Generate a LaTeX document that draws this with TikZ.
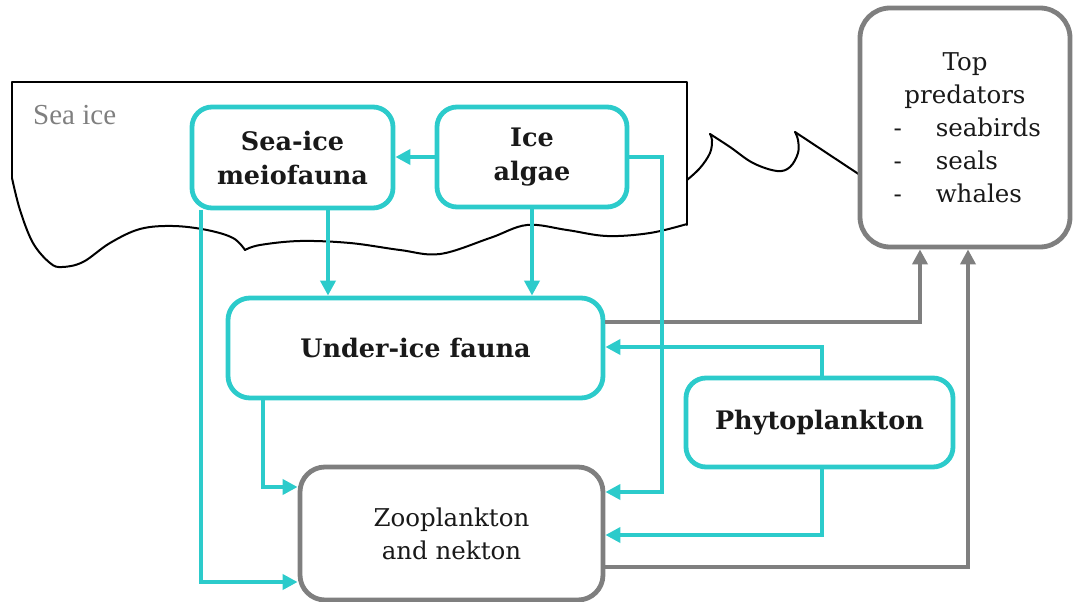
\documentclass[tikz,border=0pt]{standalone}
\usepackage{fontspec}
\setmainfont{DejaVu Serif}
\newfontfamily\labelfont{Liberation Serif}
\usetikzlibrary{arrows.meta}
\definecolor{teal2}{RGB}{44,203,203}
\definecolor{gry}{RGB}{127,127,127}
\definecolor{ink}{RGB}{25,25,25}
\begin{document}
\begin{tikzpicture}[x=1pt,y=-1pt,
  tbox/.style={draw=teal2, fill=white, line width=4.8pt, rounded corners=20pt, align=center, text=ink, font=\bfseries\fontsize{25.5}{34}\selectfont, inner sep=0pt},
  gbox/.style={draw=gry, fill=white, line width=4.8pt, rounded corners=25pt, align=center, text=ink, font=\fontsize{24.5}{33}\selectfont, inner sep=0pt},
  tarr/.style={draw=teal2, line width=4.2pt, -{Triangle[length=15pt,width=15pt]}},
  garr/.style={draw=gry, line width=4.2pt, -{Triangle[length=15pt,width=15pt]}},
  ice/.style={draw=black, line width=2pt, line join=round, line cap=round}]
\useasboundingbox (0,0) rectangle (1073,602);

% sea ice outline
\draw[ice] (12,178) -- (12,82) -- (687,82) -- (687,225);
\draw[ice] plot[smooth,tension=0.6] coordinates {(12,178) (20,210) (33,243) (50,263) (62,267) (83,262) (110,243) (140,229) (173,226) (207,230) (233,238) (245,250)};
\draw[ice] plot[smooth,tension=0.6] coordinates {(245,250) (260,245) (300,241) (350,243) (400,250) (440,254) (490,238) (527,225) (567,230) (607,236) (650,233) (687,224)};
\draw[ice] plot[smooth,tension=0.6] coordinates {(687,180) (700,168) (710,153) (712,140) (710,134)};
\draw[ice] plot[smooth,tension=0.6] coordinates {(710,134) (730,147) (753,163) (777,171) (790,167) (798,153) (798,140) (795,132)};
\draw[ice] (795,132) -- (860,175);

\node[anchor=base west, text=gry, font=\labelfont\fontsize{29}{33}\selectfont, inner sep=0pt] (sealabel) at (33,124) {Sea ice};

% boxes
\node[tbox, minimum width=201pt, minimum height=101pt] (meio) at (292.5,157.5) {Sea-ice\\meiofauna};
\node[tbox, minimum width=190pt, minimum height=100pt] (algae) at (532,157) {Ice\\algae};
\node[tbox, rounded corners=22pt, minimum width=375pt, minimum height=100pt] (under) at (415.5,348) {Under-ice fauna};
\node[tbox, minimum width=267pt, minimum height=89pt] (phyto) at (819.5,422.5) {Phytoplankton};
\node[gbox, minimum width=303pt, minimum height=133pt] (zoo) at (451.5,533.5) {Zooplankton\\and nekton};
\node[gbox, rounded corners=30pt, minimum width=210pt, minimum height=239pt] (top) at (965,127.5)
  {Top\\predators\\\makebox[143pt][l]{-\hspace{34pt}seabirds}\\\makebox[143pt][l]{-\hspace{34pt}seals}\\\makebox[143pt][l]{-\hspace{34pt}whales}};

% coordinates for connector bends
\coordinate (gA) at (920,322);
\coordinate (gB) at (968,567);
\coordinate (tA) at (662,492);
\coordinate (tB) at (201,582);
\coordinate (tC) at (263,487);
\coordinate (tD) at (328,0);
\coordinate (tE) at (822,347);
\coordinate (tF) at (822,535);

% gray connectors
\draw[garr] ([yshift=26pt]under.east) -| (top.south -| gA);
\draw[garr] ([yshift=-33.5pt]zoo.east) -| (top.south -| gB);

% teal connectors
\draw[tarr] (algae.west) -- (meio.east |- algae.west);
\draw[tarr] (algae.east) -| (tA) -- (zoo.east |- tA);
\draw[tarr] (meio.south -| tB) |- (zoo.west |- tB);
\draw[tarr] (under.south -| tC) |- (zoo.west |- tC);
\draw[tarr] (meio.south -| tD) -- (under.north -| tD);
\draw[tarr] (algae.south) -- (under.north -| algae.south);
\draw[tarr] (phyto.north -| tE) |- (under.east |- tE);
\draw[tarr] (phyto.south -| tF) |- (zoo.east |- tF);
\end{tikzpicture}
\end{document}
